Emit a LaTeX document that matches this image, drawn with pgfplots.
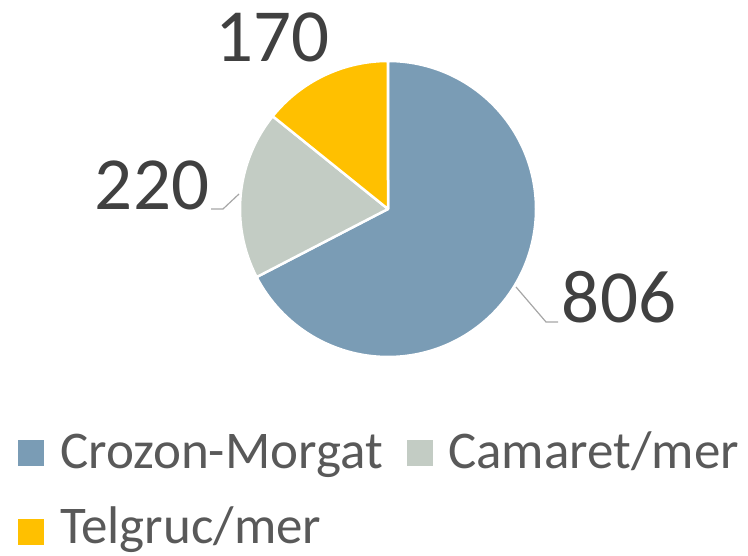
\documentclass[border=0pt]{standalone}
\usepackage{pgfplots}
\pgfplotsset{compat=1.18}
\usepackage{fontspec}
\setmainfont{Carlito}
\definecolor{cCro}{HTML}{7A9CB5}
\definecolor{cCam}{HTML}{C3CCC4}
\definecolor{cTel}{HTML}{FFC000}
\definecolor{lbl}{HTML}{404040}
\definecolor{leg}{HTML}{595959}
\definecolor{lead}{HTML}{A6A6A6}
% data
\def\vCro{806}
\def\vCam{220}
\def\vTel{170}
\pgfmathsetmacro{\tot}{\vCro+\vCam+\vTel}
\pgfmathsetmacro{\aA}{90}
\pgfmathsetmacro{\aB}{90-360*(\vCro/\tot)}
\pgfmathsetmacro{\aC}{\aB-360*(\vCam/\tot)}
\pgfmathsetmacro{\aD}{\aC-360*(\vTel/\tot)}
\begin{document}
\begin{tikzpicture}
\begin{axis}[x=1pt,y=1pt,xmin=0,xmax=748,ymin=0,ymax=555,hide axis,clip=false,
  anchor=origin, at={(0,0)}]
\def\cx{388}\def\cy{346}\def\R{148}
\fill[cCro,draw=white,line width=2.5pt,line join=round] (axis cs:\cx,\cy) -- ++(\aA:\R pt) arc[start angle=\aA,end angle=\aB,radius=\R pt] -- cycle;
\fill[cCam,draw=white,line width=2.5pt,line join=round] (axis cs:\cx,\cy) -- ++(\aB:\R pt) arc[start angle=\aB,end angle=\aC,radius=\R pt] -- cycle;
\fill[cTel,draw=white,line width=2.5pt,line join=round] (axis cs:\cx,\cy) -- ++(\aC:\R pt) arc[start angle=\aC,end angle=\aD,radius=\R pt] -- cycle;
% leader lines
\draw[lead,line width=1.2pt] (axis cs:516,268) -- (axis cs:546,233) -- (axis cs:558,233);
\draw[lead,line width=1.2pt] (axis cs:211,346) -- (axis cs:223,346) -- (axis cs:239,361);
% data labels
\node[anchor=base,inner sep=0,text=lbl,font=\fontsize{75}{80}\selectfont] at (axis cs:619,232) {\vCro};
\node[anchor=base,inner sep=0,text=lbl,font=\fontsize{75}{80}\selectfont] at (axis cs:152,345) {\vCam};
\node[anchor=base,inner sep=0,text=lbl,font=\fontsize{75}{80}\selectfont] at (axis cs:272.5,493) {\vTel};
% legend
\fill[cCro] (axis cs:18,89) rectangle (axis cs:44,115);
\fill[cCam] (axis cs:407,89) rectangle (axis cs:433,115);
\fill[cTel] (axis cs:18,10) rectangle (axis cs:44,36);
\node[anchor=base west,inner sep=0,text=leg,font=\fontsize{53}{56}\selectfont] at (axis cs:60,86) {Crozon-Morgat};
\node[anchor=base west,inner sep=0,text=leg,font=\fontsize{53}{56}\selectfont] at (axis cs:448,86) {Camaret/mer};
\node[anchor=base west,inner sep=0,text=leg,font=\fontsize{53}{56}\selectfont] at (axis cs:60,11) {Telgruc/mer};
\end{axis}
\pgfresetboundingbox
\path[use as bounding box] (0,0) rectangle (748pt,555pt);
\end{tikzpicture}
\end{document}
